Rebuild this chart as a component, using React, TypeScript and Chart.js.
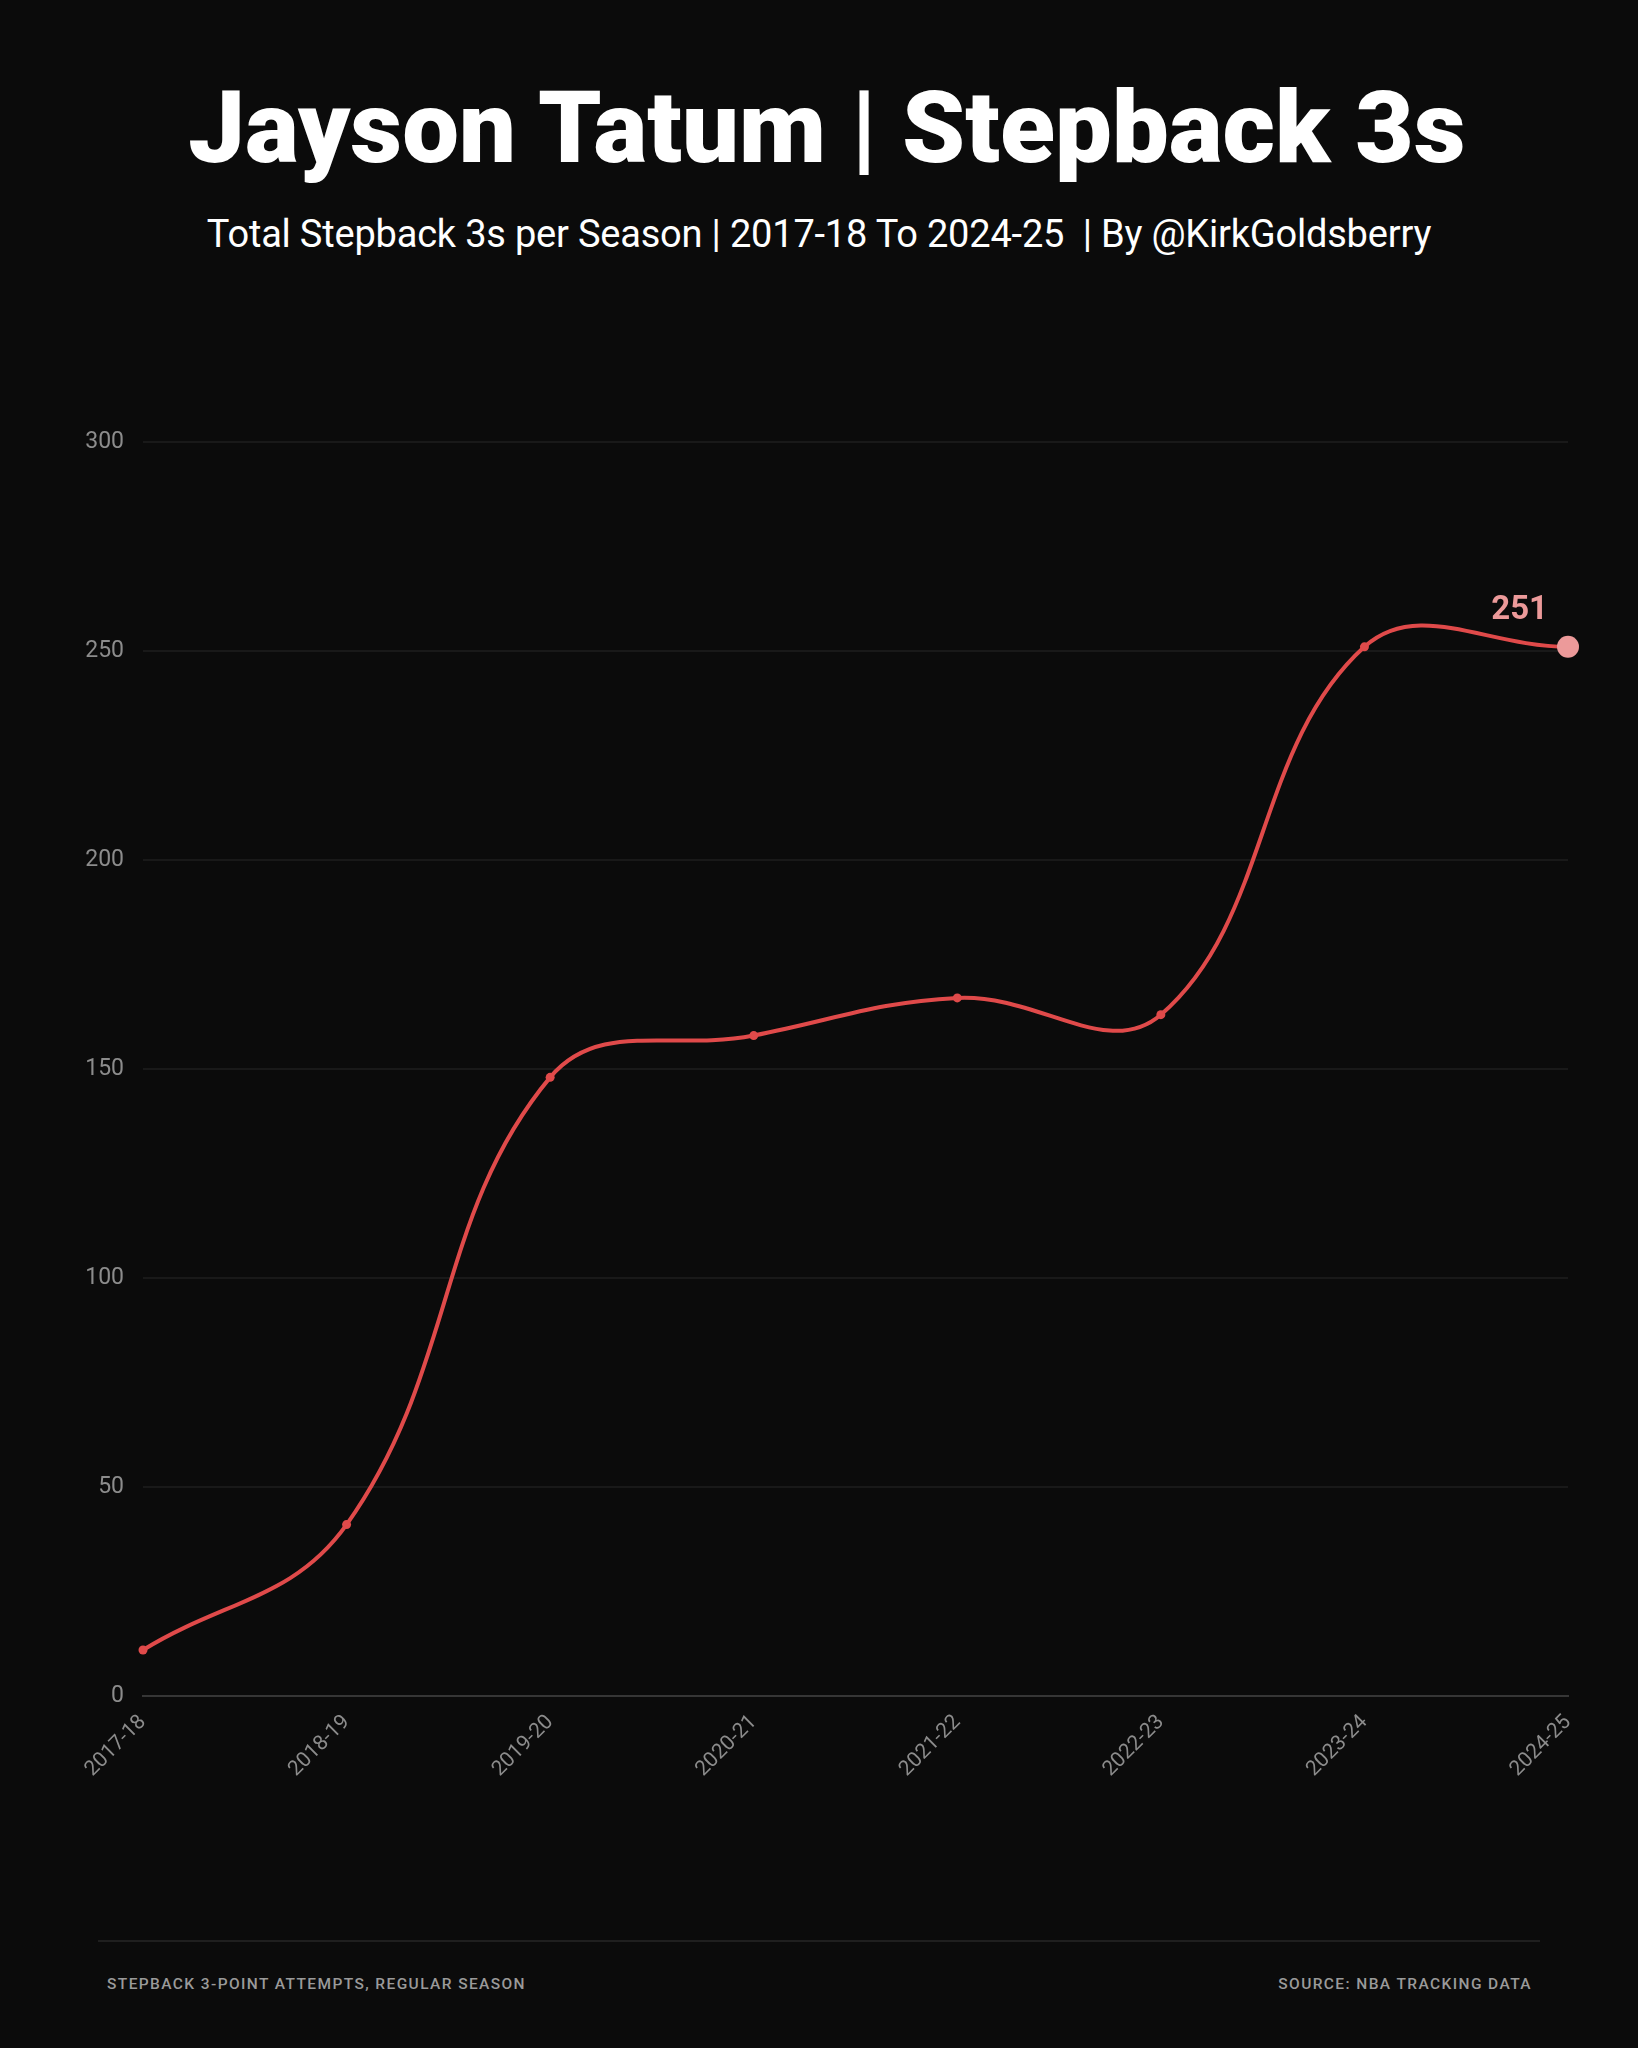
import React, { useEffect, useRef } from "react";
import { Chart, registerables } from "chart.js";

Chart.register(...registerables);

const seasons = ["2017-18", "2018-19", "2019-20", "2020-21", "2021-22", "2022-23", "2023-24", "2024-25"];
const stepbacks = [11, 41, 148, 158, 167, 163, 251, 251];
const yTicks = [0, 50, 100, 150, 200, 250, 300];

const TITLE = "Jayson Tatum | Stepback 3s";
const SUBTITLE = "Total Stepback 3s per Season | 2017-18 To 2024-25  | By @KirkGoldsberry";
const FOOT_LEFT = "STEPBACK 3-POINT ATTEMPTS, REGULAR SEASON";
const FOOT_RIGHT = "SOURCE: NBA TRACKING DATA";

const BG = "#0b0b0b";
const LINE = "#e04a4a";
const HILITE = "#ec9a9a";

export default function App() {
  const ref = useRef<HTMLCanvasElement | null>(null);

  useEffect(() => {
    document.body.style.margin = "0";
    document.body.style.background = BG;
    const lastIdx = stepbacks.length - 1;
    const labelPlugin = {
      id: "lastLabel",
      afterDatasetsDraw(chart: any) {
        const meta = chart.getDatasetMeta(0);
        const pt = meta.data[lastIdx];
        if (!pt) return;
        const ctx = chart.ctx;
        ctx.save();
        ctx.font = "bold 33px Roboto";
        ctx.fillStyle = HILITE;
        ctx.textAlign = "right";
        ctx.textBaseline = "alphabetic";
        ctx.fillText(String(stepbacks[lastIdx]), pt.x - 20, pt.y - 28);
        ctx.restore();
      },
    };
    const chart = new Chart(ref.current as HTMLCanvasElement, {
      type: "line",
      data: {
        labels: seasons,
        datasets: [
          {
            data: stepbacks,
            borderColor: LINE,
            borderWidth: 4,
            tension: 0.4,
            pointRadius: stepbacks.map((_, i) => (i === lastIdx ? 11 : 4.5)),
            pointBackgroundColor: stepbacks.map((_, i) => (i === lastIdx ? HILITE : LINE)),
            pointBorderWidth: 0,
            fill: false,
          },
        ],
      },
      options: {
        animation: false,
        responsive: false,
        devicePixelRatio: 1,
        layout: { padding: { top: 62, right: 70, left: 0, bottom: 0 } },
        plugins: { legend: { display: false }, tooltip: { enabled: false } },
        scales: {
          x: {
            offset: false,
            grid: { display: false, drawTicks: false },
            border: { display: true, color: "#363636", width: 2 },
            ticks: {
              color: "#8c8c8c",
              font: { family: "Roboto", size: 21 },
              minRotation: 45,
              maxRotation: 45,
              padding: 14,
              autoSkip: false,
            },
            afterFit(axis: any) {
              axis.height = 120;
            },
          },
          y: {
            min: yTicks[0],
            max: yTicks[yTicks.length - 1],
            afterBuildTicks(axis: any) {
              axis.ticks = yTicks.map((v) => ({ value: v }));
            },
            grid: { color: "#191919", lineWidth: 2, drawTicks: false },
            border: { display: false },
            ticks: {
              color: "#8c8c8c",
              font: { family: "Roboto", size: 23 },
              padding: 19,
            },
            afterFit(axis: any) {
              axis.width = 143;
            },
          },
        },
      },
      plugins: [labelPlugin],
    });
    return () => chart.destroy();
  }, []);

  return (
    <div
      style={{
        position: "relative",
        width: 1638,
        height: 2048,
        background: BG,
        overflow: "hidden",
        fontFamily: "Roboto, sans-serif",
      }}
    >
      <div
        style={{
          position: "absolute",
          top: 78,
          left: 8,
          width: 1638,
          textAlign: "center",
          color: "#ffffff",
          fontSize: 101,
          lineHeight: "100px",
          fontWeight: 900,
          letterSpacing: 0,
          whiteSpace: "pre",
        }}
      >
        {TITLE}
      </div>
      <div
        style={{
          position: "absolute",
          top: 215,
          left: 0,
          width: 1638,
          textAlign: "center",
          color: "#ffffff",
          fontSize: 38,
          lineHeight: "38px",
          fontWeight: 400,
          letterSpacing: -0.2,
          whiteSpace: "pre",
        }}
      >
        {SUBTITLE}
      </div>
      <canvas
        ref={ref}
        width={1638}
        height={1436}
        style={{ position: "absolute", top: 380, left: 0, width: 1638, height: 1436 }}
      />
      <div
        style={{
          position: "absolute",
          top: 1940,
          left: 98,
          width: 1442,
          height: 2,
          background: "#1f1f1f",
        }}
      />
      <div
        style={{
          position: "absolute",
          top: 1974,
          left: 107,
          color: "#9a9a9a",
          fontSize: 15.5,
          fontWeight: 500,
          lineHeight: "20px",
          letterSpacing: 1.4,
          whiteSpace: "pre",
        }}
      >
        {FOOT_LEFT}
      </div>
      <div
        style={{
          position: "absolute",
          top: 1974,
          right: 1638 - 1532,
          color: "#9a9a9a",
          fontSize: 15.5,
          fontWeight: 500,
          lineHeight: "20px",
          letterSpacing: 1.4,
          whiteSpace: "pre",
          textAlign: "right",
        }}
      >
        {FOOT_RIGHT}
      </div>
    </div>
  );
}
